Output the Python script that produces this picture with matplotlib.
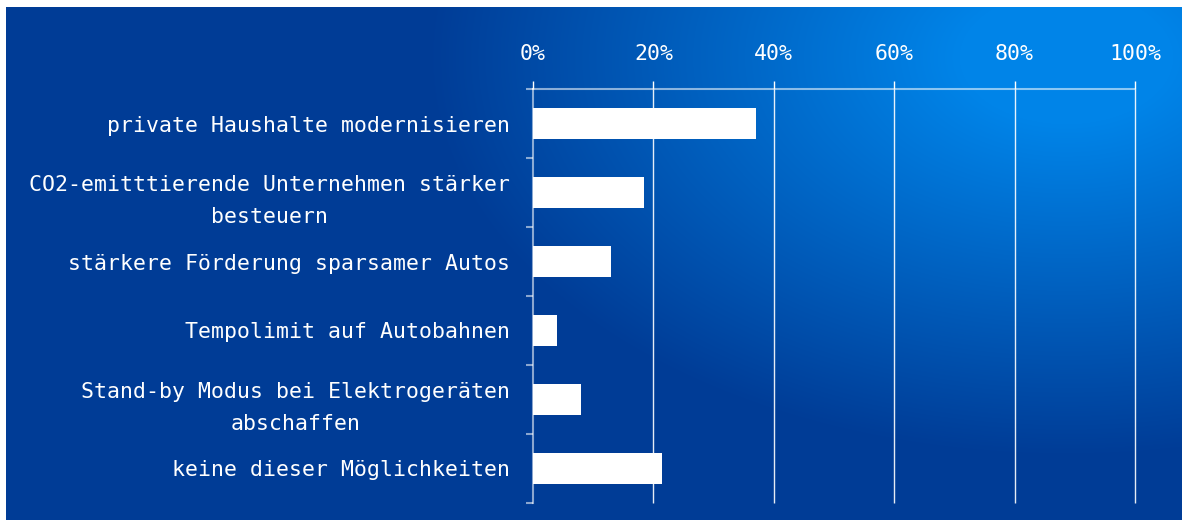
import numpy as np
import matplotlib

matplotlib.use("Agg")
import matplotlib.pyplot as plt
from matplotlib.ticker import FixedLocator

# survey answers
categories = [
    "private Haushalte modernisieren",
    "CO2-emitttierende Unternehmen stärker\nbesteuern",
    "stärkere Förderung sparsamer Autos",
    "Tempolimit auf Autobahnen",
    "Stand-by Modus bei Elektrogeräten\nabschaffen",
    "keine dieser Möglichkeiten",
]
shares = [37, 18.5, 13, 4, 8, 21.5]
tick_values = [0, 20, 40, 60, 80, 100]
tick_labels = ["0%", "20%", "40%", "60%", "80%", "100%"]

W, H = 1188, 520
FONT = "DejaVu Sans Mono"
FS = 15.5
SPINE = (1, 1, 1, 0.55)

fig = plt.figure(figsize=(W / 100, H / 100), dpi=100, facecolor="white")

# blue gradient backdrop, brighter glow in the upper right
bw, bh = 1176, 513
bg = fig.add_axes([6 / W, 0, bw / W, bh / H], zorder=0)
yy, xx = np.mgrid[0:bh, 0:bw]
d = np.sqrt(((xx - 1060) / 640.0) ** 2 + ((yy - 50) / 400.0) ** 2)
t = np.clip(1 - d, 0, 1) ** 1.0
dark = np.array([0, 60, 150]) / 255
bright = np.array([0, 132, 232]) / 255
img = dark + np.clip(t * 1.2, 0, 1)[..., None] * (bright - dark)
bg.imshow(img, aspect="auto", interpolation="bilinear")
bg.axis("off")

ax = fig.add_axes([533 / W, 1 - 503 / H, (1135 - 533) / W, (503 - 89) / H], zorder=1)
ax.patch.set_alpha(0)

y = np.arange(len(categories))
ax.barh(y, shares, height=0.44, color="white", zorder=3)

ax.set_xlim(0, 100)
ax.set_ylim(len(categories) - 0.5, -0.5)

ax.xaxis.tick_top()
ax.set_xticks(tick_values)
ax.set_xticklabels(tick_labels, fontfamily=FONT, fontsize=FS, color="white")
ax.tick_params(axis="x", which="major", direction="out", length=6, width=1,
               color="white", pad=12)

ax.set_yticks(y)
ax.set_yticklabels(categories, fontfamily=FONT, fontsize=FS, color="white")
for lbl in ax.get_yticklabels():
    lbl.set_multialignment("center")
    lbl.set_linespacing(1.75)
ax.tick_params(axis="y", which="major", length=0, pad=16.5)
ax.yaxis.set_minor_locator(FixedLocator(np.arange(-0.5, len(categories), 1.0)))
ax.tick_params(axis="y", which="minor", direction="out", length=5, width=1.5, color=SPINE)

# vertical grid lines, drawn unclipped so the 100% line stays full width
ax.vlines(tick_values[1:], -0.5, len(categories) - 0.5, color="white",
          linewidth=1, alpha=0.9, zorder=1, clip_on=False)

for side in ("right", "bottom"):
    ax.spines[side].set_visible(False)
for side in ("top", "left"):
    ax.spines[side].set_color(SPINE)
    ax.spines[side].set_linewidth(1.5)

fig.savefig("out.png", dpi=100, facecolor="white")
